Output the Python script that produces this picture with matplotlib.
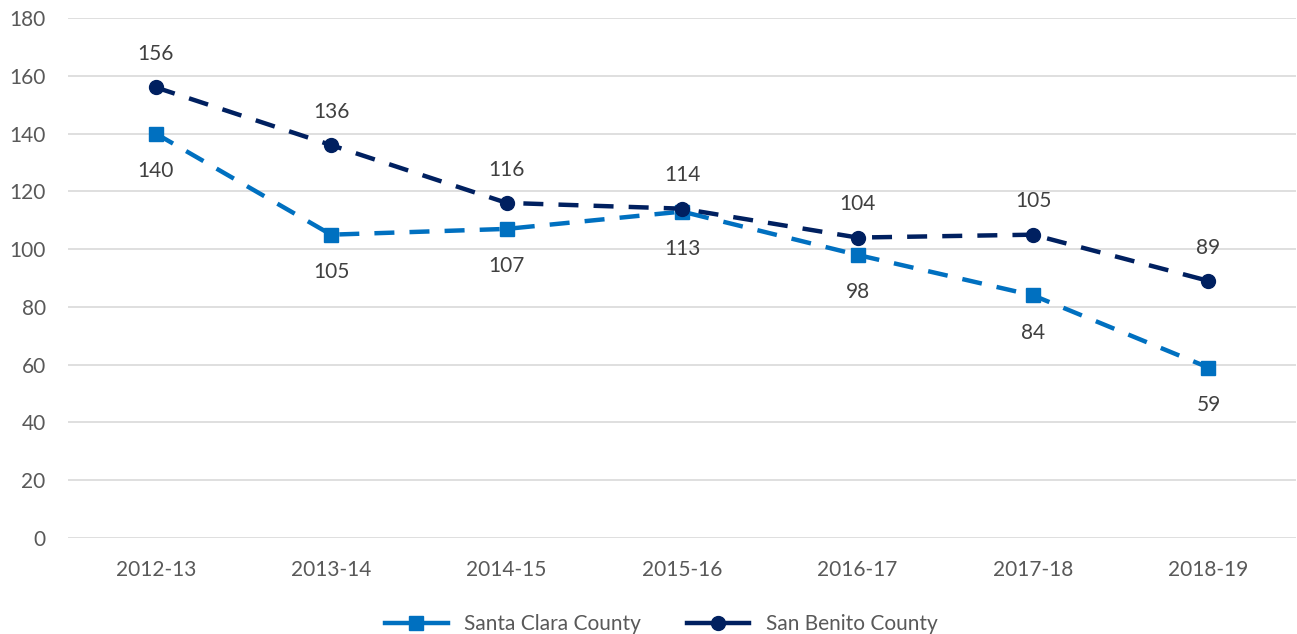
import matplotlib
matplotlib.use("Agg")
import matplotlib.pyplot as plt
from matplotlib.lines import Line2D

years = ["2012-13", "2013-14", "2014-15", "2015-16", "2016-17", "2017-18", "2018-19"]
santa_clara = [140, 105, 107, 113, 98, 84, 59]
san_benito = [156, 136, 116, 114, 104, 105, 89]

plt.rcParams["font.family"] = ["Lato", "DejaVu Sans"]
TXT = "#595959"
SC_COR = "#0070C0"
SB_COR = "#002060"

fig = plt.figure(figsize=(12.97, 6.34), dpi=100)
ax = fig.add_axes([0.0524, 0.1514, 0.947, 0.8202])

x = list(range(len(years)))
ax.plot(x, santa_clara, color=SC_COR, lw=3.2, dashes=(4.5, 3.4), marker="s",
        markersize=10, zorder=3)
ax.plot(x, san_benito, color=SB_COR, lw=3.2, dashes=(4.5, 3.4), marker="o",
        markersize=10, zorder=4)

for i, v in enumerate(santa_clara):
    ax.annotate(str(v), (i, v), xytext=(0, -27), textcoords="offset points",
                ha="center", va="center", fontsize=15, color="#404040")
for i, v in enumerate(san_benito):
    ax.annotate(str(v), (i, v), xytext=(0, 24), textcoords="offset points",
                ha="center", va="center", fontsize=15, color="#404040")

ax.set_xlim(-0.5, len(years) - 0.5)
ax.set_ylim(0, 180)
ax.set_yticks(range(0, 181, 20))
ax.set_xticks(x)
ax.set_xticklabels(years)
ax.tick_params(axis="both", length=0, labelsize=15, colors=TXT)
ax.tick_params(axis="x", pad=16)
ax.tick_params(axis="y", pad=16)
ax.grid(axis="y", color="#d9d9d9", lw=1.2)
ax.set_axisbelow(True)
for s in ax.spines.values():
    s.set_visible(False)

handles = [
    Line2D([0], [0], color=SC_COR, lw=3.2, marker="s", markersize=10,
           label="Santa Clara County"),
    Line2D([0], [0], color=SB_COR, lw=3.2, marker="o", markersize=10,
           label="San Benito County"),
]
leg = fig.legend(handles=handles, loc="lower center", bbox_to_anchor=(0.51, -0.03),
                 ncol=2, frameon=False, fontsize=15, handlelength=3,
                 columnspacing=2.2)
for t in leg.get_texts():
    t.set_color(TXT)

fig.savefig("out.png", dpi=100)
